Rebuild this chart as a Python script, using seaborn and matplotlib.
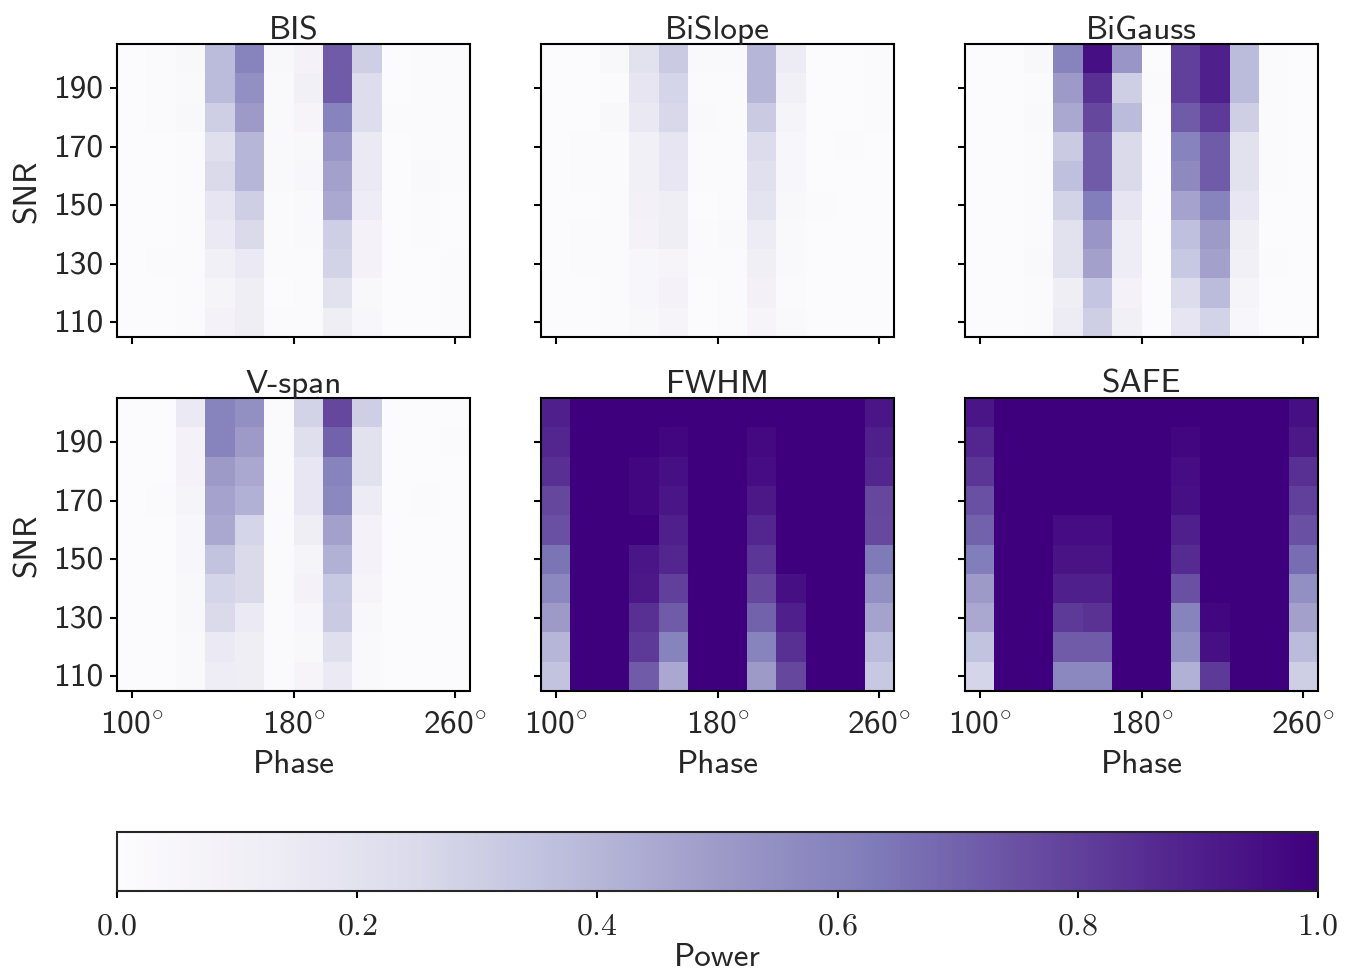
import numpy as np
import pandas as pd
import matplotlib
matplotlib.use('Agg')
import matplotlib.pyplot as plt
import seaborn as sns

# phase bins (deg) and SNR rows (top row first)
phase = [100.0, 114.5, 129.1, 143.6, 158.2, 172.7, 187.3, 201.8, 216.4, 230.9, 245.5, 260.0]
snr = [200, 190, 180, 170, 160, 150, 140, 130, 120, 110]

bis = [
    [0.01, 0.02, 0.04, 0.38, 0.60, 0.04, 0.08, 0.72, 0.30, 0.01, 0.02, 0.02],
    [0.01, 0.02, 0.03, 0.38, 0.55, 0.03, 0.10, 0.72, 0.23, 0.01, 0.02, 0.02],
    [0.01, 0.02, 0.04, 0.30, 0.50, 0.03, 0.06, 0.60, 0.23, 0.02, 0.02, 0.02],
    [0.01, 0.01, 0.02, 0.22, 0.40, 0.03, 0.04, 0.52, 0.15, 0.01, 0.02, 0.02],
    [0.01, 0.01, 0.02, 0.25, 0.40, 0.03, 0.05, 0.48, 0.15, 0.01, 0.03, 0.02],
    [0.01, 0.01, 0.02, 0.18, 0.30, 0.02, 0.03, 0.45, 0.13, 0.01, 0.02, 0.01],
    [0.01, 0.01, 0.02, 0.15, 0.25, 0.02, 0.03, 0.30, 0.08, 0.01, 0.02, 0.01],
    [0.01, 0.02, 0.02, 0.10, 0.15, 0.02, 0.02, 0.28, 0.08, 0.01, 0.01, 0.02],
    [0.01, 0.01, 0.02, 0.07, 0.12, 0.01, 0.02, 0.20, 0.04, 0.01, 0.01, 0.02],
    [0.01, 0.01, 0.02, 0.08, 0.12, 0.02, 0.02, 0.12, 0.05, 0.01, 0.01, 0.02],
]

bislope = [
    [0.01, 0.01, 0.04, 0.20, 0.32, 0.03, 0.03, 0.40, 0.14, 0.01, 0.01, 0.02],
    [0.01, 0.01, 0.02, 0.18, 0.27, 0.02, 0.02, 0.40, 0.10, 0.01, 0.01, 0.02],
    [0.01, 0.01, 0.04, 0.16, 0.26, 0.03, 0.02, 0.32, 0.07, 0.01, 0.01, 0.02],
    [0.01, 0.02, 0.02, 0.10, 0.18, 0.02, 0.02, 0.24, 0.05, 0.01, 0.02, 0.01],
    [0.01, 0.02, 0.02, 0.10, 0.17, 0.02, 0.02, 0.21, 0.05, 0.01, 0.01, 0.01],
    [0.01, 0.01, 0.02, 0.09, 0.12, 0.01, 0.02, 0.19, 0.04, 0.02, 0.01, 0.01],
    [0.01, 0.02, 0.02, 0.08, 0.12, 0.02, 0.03, 0.14, 0.03, 0.01, 0.01, 0.01],
    [0.01, 0.02, 0.02, 0.05, 0.06, 0.02, 0.02, 0.11, 0.03, 0.01, 0.01, 0.01],
    [0.01, 0.01, 0.02, 0.05, 0.08, 0.01, 0.02, 0.09, 0.02, 0.01, 0.01, 0.01],
    [0.01, 0.01, 0.02, 0.04, 0.06, 0.01, 0.02, 0.06, 0.03, 0.01, 0.01, 0.01],
]

bigauss = [
    [0.01, 0.01, 0.04, 0.60, 0.95, 0.52, 0.01, 0.80, 0.90, 0.38, 0.02, 0.01],
    [0.01, 0.01, 0.02, 0.50, 0.85, 0.30, 0.02, 0.80, 0.90, 0.38, 0.02, 0.01],
    [0.01, 0.01, 0.03, 0.45, 0.78, 0.38, 0.01, 0.72, 0.82, 0.30, 0.02, 0.01],
    [0.01, 0.01, 0.02, 0.32, 0.72, 0.25, 0.01, 0.60, 0.72, 0.20, 0.02, 0.01],
    [0.01, 0.01, 0.02, 0.36, 0.72, 0.25, 0.01, 0.57, 0.72, 0.20, 0.02, 0.01],
    [0.01, 0.01, 0.02, 0.28, 0.62, 0.18, 0.01, 0.47, 0.60, 0.17, 0.01, 0.01],
    [0.01, 0.01, 0.02, 0.20, 0.52, 0.13, 0.01, 0.36, 0.50, 0.12, 0.01, 0.01],
    [0.01, 0.01, 0.03, 0.20, 0.48, 0.13, 0.01, 0.33, 0.48, 0.10, 0.02, 0.01],
    [0.01, 0.01, 0.02, 0.12, 0.34, 0.08, 0.01, 0.24, 0.38, 0.07, 0.01, 0.01],
    [0.01, 0.01, 0.02, 0.14, 0.30, 0.10, 0.01, 0.18, 0.28, 0.05, 0.01, 0.01],
]

vspan = [
    [0.01, 0.01, 0.15, 0.60, 0.55, 0.02, 0.28, 0.78, 0.30, 0.01, 0.01, 0.01],
    [0.01, 0.01, 0.08, 0.60, 0.50, 0.02, 0.22, 0.70, 0.20, 0.01, 0.01, 0.02],
    [0.01, 0.01, 0.08, 0.50, 0.45, 0.02, 0.17, 0.60, 0.20, 0.01, 0.01, 0.01],
    [0.01, 0.02, 0.07, 0.47, 0.42, 0.02, 0.17, 0.58, 0.14, 0.01, 0.02, 0.01],
    [0.01, 0.01, 0.05, 0.45, 0.27, 0.02, 0.12, 0.48, 0.08, 0.01, 0.01, 0.01],
    [0.01, 0.01, 0.05, 0.35, 0.25, 0.02, 0.07, 0.42, 0.08, 0.01, 0.01, 0.01],
    [0.01, 0.01, 0.04, 0.27, 0.25, 0.02, 0.08, 0.33, 0.06, 0.01, 0.01, 0.01],
    [0.01, 0.01, 0.04, 0.25, 0.15, 0.02, 0.05, 0.32, 0.04, 0.01, 0.01, 0.01],
    [0.01, 0.01, 0.03, 0.15, 0.12, 0.02, 0.04, 0.22, 0.03, 0.01, 0.01, 0.01],
    [0.01, 0.01, 0.03, 0.13, 0.12, 0.02, 0.06, 0.15, 0.03, 0.01, 0.01, 0.01],
]

fwhm = [
    [0.90, 1.00, 1.00, 1.00, 1.00, 1.00, 1.00, 1.00, 1.00, 1.00, 1.00, 0.93],
    [0.88, 1.00, 1.00, 1.00, 0.98, 1.00, 1.00, 0.97, 1.00, 1.00, 1.00, 0.90],
    [0.85, 1.00, 1.00, 0.98, 0.95, 1.00, 1.00, 0.96, 1.00, 1.00, 1.00, 0.88],
    [0.78, 1.00, 1.00, 0.98, 0.93, 1.00, 1.00, 0.92, 1.00, 1.00, 1.00, 0.78],
    [0.75, 1.00, 1.00, 1.00, 0.90, 1.00, 1.00, 0.88, 1.00, 1.00, 1.00, 0.77],
    [0.65, 1.00, 1.00, 0.93, 0.88, 1.00, 1.00, 0.83, 1.00, 1.00, 1.00, 0.63],
    [0.58, 1.00, 1.00, 0.92, 0.80, 1.00, 1.00, 0.78, 0.95, 1.00, 1.00, 0.55],
    [0.50, 1.00, 1.00, 0.85, 0.72, 1.00, 1.00, 0.70, 0.90, 1.00, 1.00, 0.47],
    [0.40, 1.00, 1.00, 0.82, 0.60, 1.00, 1.00, 0.60, 0.85, 1.00, 1.00, 0.38],
    [0.35, 1.00, 1.00, 0.72, 0.45, 1.00, 1.00, 0.50, 0.78, 1.00, 1.00, 0.33],
]

safe = [
    [0.93, 1.00, 1.00, 1.00, 1.00, 1.00, 1.00, 1.00, 1.00, 1.00, 1.00, 0.95],
    [0.88, 1.00, 1.00, 1.00, 1.00, 1.00, 1.00, 0.98, 1.00, 1.00, 1.00, 0.92],
    [0.83, 1.00, 1.00, 1.00, 1.00, 1.00, 1.00, 0.96, 1.00, 1.00, 1.00, 0.85],
    [0.75, 1.00, 1.00, 1.00, 1.00, 1.00, 1.00, 0.95, 1.00, 1.00, 1.00, 0.80],
    [0.70, 1.00, 1.00, 0.96, 0.96, 1.00, 1.00, 0.90, 1.00, 1.00, 1.00, 0.75],
    [0.62, 1.00, 1.00, 0.94, 0.94, 1.00, 1.00, 0.86, 1.00, 1.00, 1.00, 0.67],
    [0.50, 1.00, 1.00, 0.90, 0.90, 1.00, 1.00, 0.75, 1.00, 1.00, 1.00, 0.55],
    [0.45, 1.00, 1.00, 0.82, 0.84, 1.00, 1.00, 0.60, 0.98, 1.00, 1.00, 0.48],
    [0.35, 1.00, 1.00, 0.72, 0.72, 1.00, 1.00, 0.55, 0.95, 1.00, 1.00, 0.38],
    [0.27, 1.00, 1.00, 0.58, 0.58, 1.00, 1.00, 0.42, 0.82, 1.00, 1.00, 0.30],
]

titles = ['BIS', 'BiSlope', 'BiGauss', 'V-span', 'FWHM', 'SAFE']
panels = [bis, bislope, bigauss, vspan, fwhm, safe]
phase_ticks = [100, 180, 260]
snr_ticks = [190, 170, 150, 130, 110]
cbar_ticks = [0.0, 0.2, 0.4, 0.6, 0.8, 1.0]

sns.set_style('ticks')
plt.rcParams['font.family'] = ['cmss10']
plt.rcParams['mathtext.fontset'] = 'cm'
plt.rcParams['axes.formatter.use_mathtext'] = True
plt.rcParams['axes.unicode_minus'] = False

W, H = 1349, 978
fig = plt.figure(figsize=(W / 100, H / 100), dpi=100)

lefts = [117, 541, 965]
tops = [45, 399]
aw, ah = 353, 293
fs = 24

# heatmap cell centres sit at i + 0.5
xpos = np.interp(phase_ticks, phase, np.arange(len(phase)) + 0.5)
ypos = np.interp(snr_ticks, snr[::-1], (np.arange(len(snr)) + 0.5)[::-1])

for k, (name, vals) in enumerate(zip(titles, panels)):
    r, c = divmod(k, 3)
    ax = fig.add_axes([lefts[c] / W, 1 - (tops[r] + ah) / H, aw / W, ah / H])
    df = pd.DataFrame(vals, index=snr, columns=phase)
    sns.heatmap(df, ax=ax, cmap='Purples', vmin=0, vmax=1, cbar=False)
    for sp in ax.spines.values():
        sp.set_visible(True)
        sp.set_linewidth(1.5)
        sp.set_color('black')
    ax.set_xticks(xpos)
    ax.set_yticks(ypos)
    if r == 1:
        ax.set_xticklabels(['%d' % t + r'$^{\circ}$' for t in phase_ticks], rotation=0, fontsize=fs)
        ax.set_xlabel('Phase', fontsize=fs, labelpad=8)
    else:
        ax.set_xticklabels([])
        ax.set_xlabel('')
    if c == 0:
        ax.set_yticklabels([str(t) for t in snr_ticks], rotation=0, fontsize=fs)
        ax.set_ylabel('SNR', fontsize=fs, labelpad=8)
    else:
        ax.set_yticklabels([])
        ax.set_ylabel('')
    ax.tick_params(axis='x', length=5, width=1.5, color='black', pad=8)
    ax.tick_params(axis='y', length=5, width=1.5, color='black', pad=5)
    ax.set_title(name, fontsize=fs, pad=4)

cax = fig.add_axes([117 / W, 1 - 892 / H, 1201 / W, 59 / H])
sm = plt.cm.ScalarMappable(cmap='Purples', norm=plt.Normalize(0, 1))
cb = fig.colorbar(sm, cax=cax, orientation='horizontal')
cb.set_ticks(cbar_ticks)
cb.set_ticklabels([r'$%.1f$' % t for t in cbar_ticks], fontsize=23)
cb.outline.set_linewidth(1.5)
cax.tick_params(length=5, width=1.5, color='black', pad=9)
cb.set_label('Power', fontsize=fs, labelpad=2)

fig.savefig('out.png', dpi=100)
